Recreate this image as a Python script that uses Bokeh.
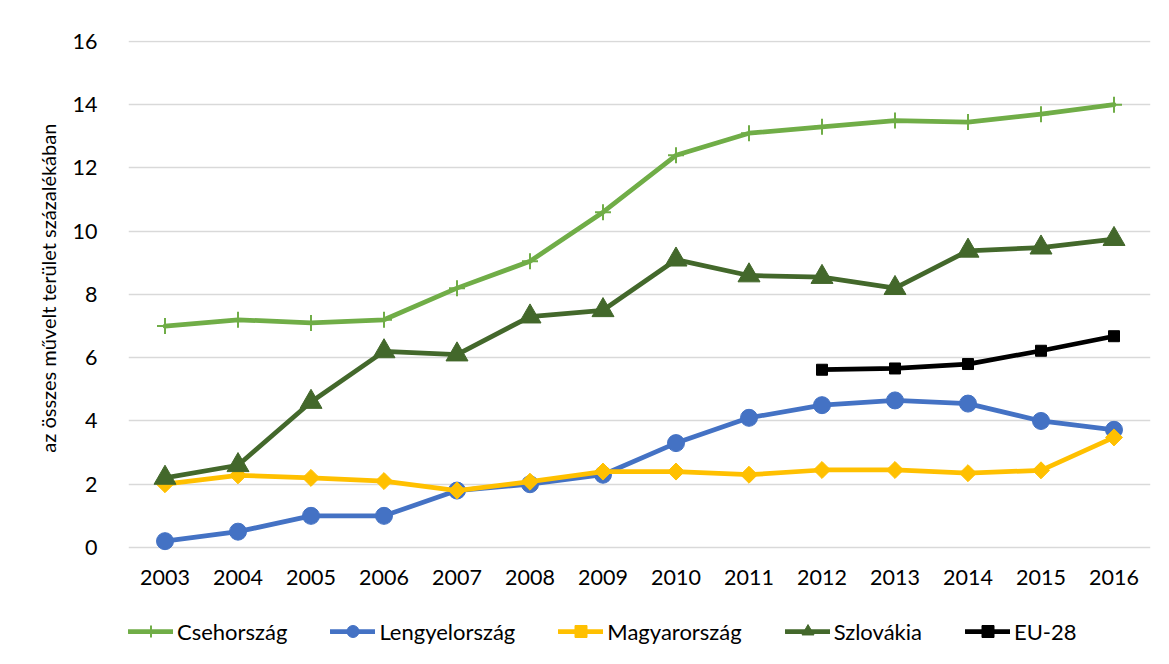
import math
from bokeh.plotting import figure
from bokeh.models import Range1d, FactorRange, Legend, LegendItem
from bokeh.embed import file_html
from bokeh.resources import INLINE

years = [str(y) for y in range(2003, 2017)]
cseh = [7.0, 7.2, 7.1, 7.2, 8.2, 9.05, 10.6, 12.4, 13.1, 13.3, 13.5, 13.45, 13.7, 14.0]
lengyel = [0.2, 0.5, 1.0, 1.0, 1.8, 2.0, 2.3, 3.3, 4.1, 4.5, 4.65, 4.55, 4.0, 3.72]
magyar = [2.0, 2.28, 2.2, 2.1, 1.8, 2.08, 2.4, 2.4, 2.3, 2.45, 2.45, 2.35, 2.44, 3.48]
szlovakia = [2.2, 2.6, 4.6, 6.2, 6.1, 7.3, 7.5, 9.1, 8.6, 8.55, 8.2, 9.38, 9.48, 9.75]
eu28 = [None] * 9 + [5.62, 5.66, 5.8, 6.22, 6.68]
y_ticks = [0, 2, 4, 6, 8, 10, 12, 14, 16]
y_label = "az összes művelt terület százalékában"

FONT = "Lato"

# the frame reaches down to the bottom edge so that the legend can sit below the axis
p = figure(width=1153, height=648, x_range=FactorRange(*years), y_range=Range1d(-3.194, 16.03),
           output_backend="svg", toolbar_location=None,
           min_border_left=128, min_border_right=3, min_border_top=40, min_border_bottom=0)
p.outline_line_color = None
p.background_fill_color = "white"
p.border_fill_color = "white"

p.xgrid.grid_line_color = None
p.ygrid.grid_line_color = "#D9D9D9"
p.ygrid.grid_line_width = 1.5
p.yaxis.ticker = y_ticks

for ax in (p.xaxis[0], p.yaxis[0]):
    ax.axis_line_color = None
    ax.major_tick_line_color = None
    ax.minor_tick_line_color = None
    ax.major_tick_out = 0
    ax.major_tick_in = 0
    ax.minor_tick_out = 0
    ax.major_label_text_font = FONT
    ax.major_label_text_font_size = "21.5px"
    ax.major_label_text_color = "#000000"

p.xaxis.fixed_location = 0
p.xaxis.major_label_standoff = 23

p.yaxis.major_label_standoff = 31
p.yaxis.axis_label = "\u00a0" * 22 + y_label
p.yaxis.axis_label_text_font = FONT
p.yaxis.axis_label_text_font_size = "20px"
p.yaxis.axis_label_text_font_style = "normal"
p.yaxis.axis_label_text_color = "#000000"
p.yaxis.axis_label_standoff = 10

def split(vals):
    xs = [years[i] for i, v in enumerate(vals) if v is not None]
    ys = [v for v in vals if v is not None]
    return xs, ys

items = []
specs = [
    ("Csehország", cseh, "#70AD47", dict(marker="cross", size=16, line_width=2, line_color="#70AD47")),
    ("Lengyelország", lengyel, "#4472C4", dict(marker="circle", size=17, fill_color="#4472C4", line_color="#4472C4")),
    ("Magyarország", magyar, "#FFC000", dict(marker="square", size=12, angle=math.pi / 4, fill_color="#FFC000", line_color="#FFC000")),
    ("Szlovákia", szlovakia, "#43682B", dict(marker="triangle", size=22, fill_color="#43682B", line_color="#43682B")),
    ("EU-28", eu28, "#000000", dict(marker="square", size=11, fill_color="#000000", line_color="#000000")),
]
for name, vals, color, mk in specs:
    xs, ys = split(vals)
    r1 = p.line(xs, ys, line_color=color, line_width=4.75, line_cap="round", line_join="round")
    r2 = p.scatter(xs, ys, **mk)
    items.append(LegendItem(label=name, renderers=[r1, r2]))

legend = Legend(items=items, orientation="horizontal", location=(0, 2),
                glyph_width=45, glyph_height=30, label_height=30, label_standoff=4,
                spacing=43, padding=0, margin=0,
                label_text_font=FONT, label_text_font_size="22px", label_text_color="#000000",
                border_line_color=None, background_fill_alpha=0)
p.add_layout(legend, "center")

open("out.html", "w").write(file_html(p, INLINE))
